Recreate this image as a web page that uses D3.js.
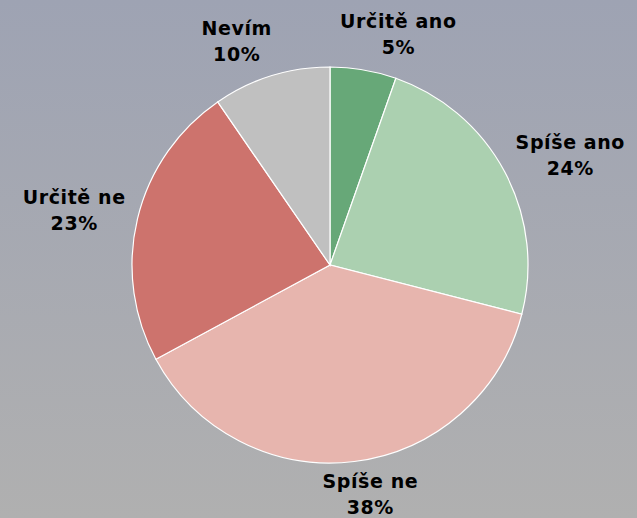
<!DOCTYPE html>
<html>
<head>
<meta charset="utf-8">
<script src="https://cdn.jsdelivr.net/npm/d3@7"></script>
<style>
  html, body { margin: 0; padding: 0; }
  body { width: 637px; height: 518px; overflow: hidden; }
</style>
</head>
<body>
<div id="chart"></div>
<script>
// ── data ───────────────────────────────────────────────
const categories  = ["Určitě ano", "Spíše ano", "Spíše ne", "Určitě ne", "Nevím"];
const shares      = [5.4, 23.6, 38.1, 23.3, 9.6];
const sliceColors = ["#67a878", "#abd0b0", "#e7b5ae", "#cd736d", "#c0c0c0"];

const W = 637, H = 518;
const cx = 330, cy = 265, radius = 198;
const fontSize = 19, lineH = 26, spacing = 0.6;

const svg = d3.select("#chart").append("svg")
  .attr("width", W)
  .attr("height", H);

// background gradient
const grad = svg.append("defs").append("linearGradient")
  .attr("id", "bg")
  .attr("x1", 0).attr("y1", 0)
  .attr("x2", 0).attr("y2", 1);
grad.append("stop").attr("offset", "0%").attr("stop-color", "#9ea3b3");
grad.append("stop").attr("offset", "100%").attr("stop-color", "#b0b0b0");

svg.append("rect")
  .attr("width", W)
  .attr("height", H)
  .attr("fill", "url(#bg)");

const data  = categories.map((c, i) => ({ name: c, value: shares[i], color: sliceColors[i] }));
const total = d3.sum(shares);

const pie = d3.pie()
  .sort(null)
  .value(d => d.value);

const arc = d3.arc()
  .innerRadius(0)
  .outerRadius(radius);

const g = svg.append("g")
  .attr("transform", `translate(${cx},${cy})`);

const arcs = pie(data);

g.selectAll("path.slice")
  .data(arcs)
  .join("path")
  .attr("class", "slice")
  .attr("d", arc)
  .attr("fill", d => d.data.color)
  .attr("stroke", "#ffffff")
  .attr("stroke-width", 1.2);

// labels: outside end, pushed off the rim along the mid angle
arcs.forEach(d => {
  const mid = (d.startAngle + d.endAngle) / 2;
  const s = Math.sin(mid), c = -Math.cos(mid);
  const pct = Math.round(d.data.value / total * 100) + "%";

  const t = g.append("text")
    .attr("font-family", "'DejaVu Sans', Verdana, sans-serif")
    .attr("font-weight", "bold")
    .attr("font-size", fontSize)
    .attr("letter-spacing", spacing)
    .attr("fill", "#000")
    .attr("text-anchor", "middle");

  // trailing letter-spacing shifts centred text left, nudge it back
  t.append("tspan").attr("x", spacing / 2).attr("dy", 0).text(d.data.name);
  t.append("tspan").attr("x", spacing / 2).attr("dy", lineH).text(pct);

  const halfW = t.node().getBBox().width / 2;
  const x = s * (radius + halfW) + Math.sign(s) * (10 + 15 * Math.max(0, -c));
  const y = c * (radius + (c > 0 ? 33 : 36));
  // first baseline so the two-line block is centred on y
  t.attr("transform", `translate(${x},${y - lineH / 2 + fontSize * 0.36})`);
});
</script>
</body>
</html>
